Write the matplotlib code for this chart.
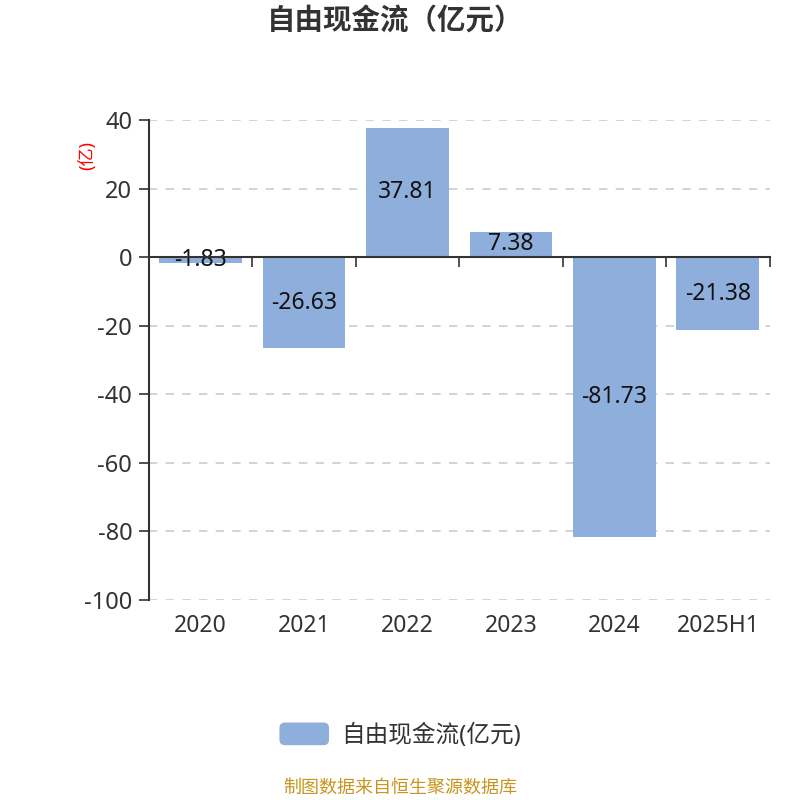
import matplotlib
matplotlib.use("Agg")
import matplotlib.pyplot as plt
import numpy as np
from matplotlib.patches import Patch, FancyBboxPatch
from matplotlib.legend_handler import HandlerPatch

plt.rcParams["font.family"] = ["Noto Sans", "Noto Sans CJK SC", "DejaVu Sans"]

# data
categories = ["2020", "2021", "2022", "2023", "2024", "2025H1"]
values = [-1.83, -26.63, 37.81, 7.38, -81.73, -21.38]
series_name = "自由现金流(亿元)"
title = "自由现金流（亿元）"
y_ticks = [40, 20, 0, -20, -40, -60, -80, -100]

BAR_COLOR = "#8eaedb"
TEXT = "#333333"


def rounded_handle(legend, orig_handle, xdescent, ydescent, width, height, fontsize):
    return FancyBboxPatch((-xdescent, -ydescent), width, height,
                          boxstyle="round,pad=0,rounding_size=4")


fig = plt.figure(figsize=(8, 8), dpi=100)
ax = fig.add_axes([0.186, 0.25, 0.776, 0.60])

x = np.arange(len(categories))
ax.bar(x, values, width=0.8, color=BAR_COLOR, zorder=3)

for xi, v in zip(x, values):
    ax.text(xi, v / 2, f"{v:.2f}", ha="center", va="center",
            fontsize=16.5, color="#111111", zorder=4)

ax.set_xlim(-0.5, len(categories) - 0.5)
ax.set_ylim(-100, 40)
ax.set_yticks(y_ticks)
ax.set_yticklabels([str(t) for t in y_ticks])
ax.tick_params(axis="y", length=7, width=1.2, color=TEXT, labelcolor=TEXT,
               labelsize=17, pad=5)
ax.grid(axis="y", linestyle=(0, (5, 5)), color="#cccccc", linewidth=1.2, zorder=0)

for s in ["top", "right"]:
    ax.spines[s].set_visible(False)
ax.spines["left"].set_color(TEXT)
ax.spines["left"].set_linewidth(1.5)
ax.spines["bottom"].set_position(("data", 0))
ax.spines["bottom"].set_color(TEXT)
ax.spines["bottom"].set_linewidth(1.5)
ax.spines["bottom"].set_zorder(5)

# boundary ticks on the zero line
ax.set_xticks(np.arange(len(categories) + 1) - 0.5)
ax.set_xticklabels([])
ax.tick_params(axis="x", length=7, width=1.2, color=TEXT, direction="out")

# category labels at the bottom
sec = ax.secondary_xaxis(0)
sec.set_xticks(x)
sec.set_xticklabels(categories)
sec.tick_params(axis="x", length=0, labelsize=16.5, labelcolor=TEXT, pad=10)
sec.spines["bottom"].set_visible(False)

ax.set_ylabel("(亿)", color="red", fontsize=13, labelpad=0)
ax.yaxis.set_label_coords(-0.084, 0.927)

fig.text(0.494, 0.972, title, ha="center", va="center", fontsize=20.5,
         fontweight="bold", color=TEXT)

handle = Patch(facecolor=BAR_COLOR, edgecolor="none")
fig.legend([handle], [series_name], loc="center", bbox_to_anchor=(0.5, 0.081),
           frameon=False, fontsize=17, handlelength=2.1, handleheight=1.1,
           handletextpad=0.5, labelcolor=TEXT,
           handler_map={Patch: HandlerPatch(patch_func=rounded_handle)})

fig.text(0.5, 0.015, "制图数据来自恒生聚源数据库", ha="center", va="center",
         fontsize=13, color="#c8951e")

fig.savefig("out.png", dpi=100)
